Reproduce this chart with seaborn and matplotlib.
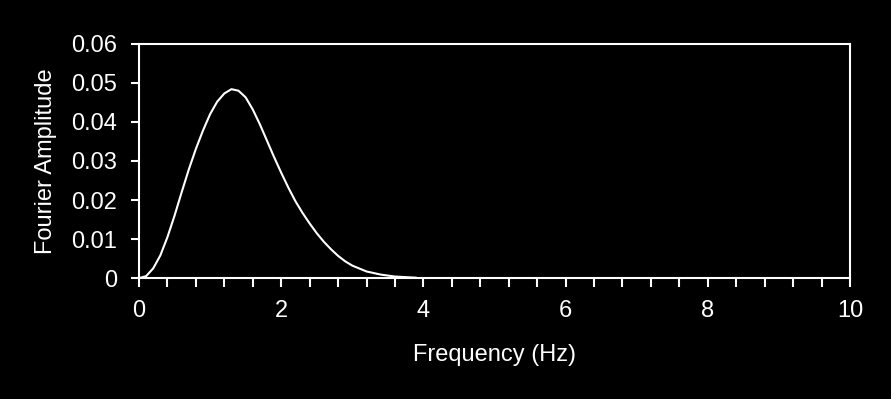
import numpy as np
import pandas as pd
import matplotlib
matplotlib.use("Agg")
import matplotlib.pyplot as plt
import seaborn as sns

# values
freq = [0.0, 0.1, 0.2, 0.3, 0.4, 0.5, 0.6, 0.7, 0.8, 0.9, 1.0, 1.1, 1.2, 1.3,
        1.4, 1.5, 1.6, 1.7, 1.8, 1.9, 2.0, 2.1, 2.2, 2.3, 2.4, 2.5, 2.6, 2.7,
        2.8, 2.9, 3.0, 3.2, 3.4, 3.6, 3.8, 3.9]
amp = [0.0, 0.0005, 0.0025, 0.0058, 0.0105, 0.0160, 0.0220, 0.0278, 0.0331,
       0.0378, 0.0420, 0.0452, 0.0473, 0.0484, 0.0480, 0.0463, 0.0432, 0.0394,
       0.0352, 0.0310, 0.0270, 0.0232, 0.0197, 0.0167, 0.0140, 0.0115, 0.0093,
       0.0074, 0.0057, 0.0043, 0.0032, 0.0017, 0.0009, 0.0004, 0.0002, 0.0001]

x_ticks = [0, 2, 4, 6, 8, 10]
x_minor = [0.4 * i for i in range(26)]
y_ticks = [0, 0.01, 0.02, 0.03, 0.04, 0.05, 0.06]
y_labels = ["0", "0.01", "0.02", "0.03", "0.04", "0.05", "0.06"]

df = pd.DataFrame({"Frequency (Hz)": freq, "Fourier Amplitude": amp})

sns.set_theme(style="ticks")
plt.rcParams["font.family"] = ["Liberation Sans", "DejaVu Sans"]
plt.rcParams.update({
    "figure.facecolor": "black",
    "axes.facecolor": "black",
    "axes.edgecolor": "white",
    "axes.labelcolor": "white",
    "xtick.color": "white",
    "ytick.color": "white",
    "text.color": "white",
})

fig = plt.figure(figsize=(8.91, 3.99), dpi=100)
ax = fig.add_axes([0.156, 0.303, 0.798, 0.587])

sns.lineplot(data=df, x="Frequency (Hz)", y="Fourier Amplitude", ax=ax,
             color="white", linewidth=1.5)

ax.set_xlim(0, 10)
ax.set_ylim(0, 0.06)
ax.set_xticks(x_ticks)
ax.set_xticklabels([str(t) for t in x_ticks])
ax.set_xticks(x_minor, minor=True)
ax.set_yticks(y_ticks)
ax.set_yticklabels(y_labels)

for s in ax.spines.values():
    s.set_linewidth(1.5)
    s.set_color("white")

ax.tick_params(axis="both", which="both", direction="out", width=1.5,
               labelsize=17, colors="white")
ax.tick_params(axis="x", which="both", length=6.5, pad=9)
ax.tick_params(axis="y", which="major", length=6, pad=10)

ax.set_xlabel("Frequency (Hz)", fontsize=17, labelpad=16)
ax.set_ylabel("Fourier Amplitude", fontsize=17, labelpad=10)

fig.savefig("out.png", dpi=100, facecolor="black")
